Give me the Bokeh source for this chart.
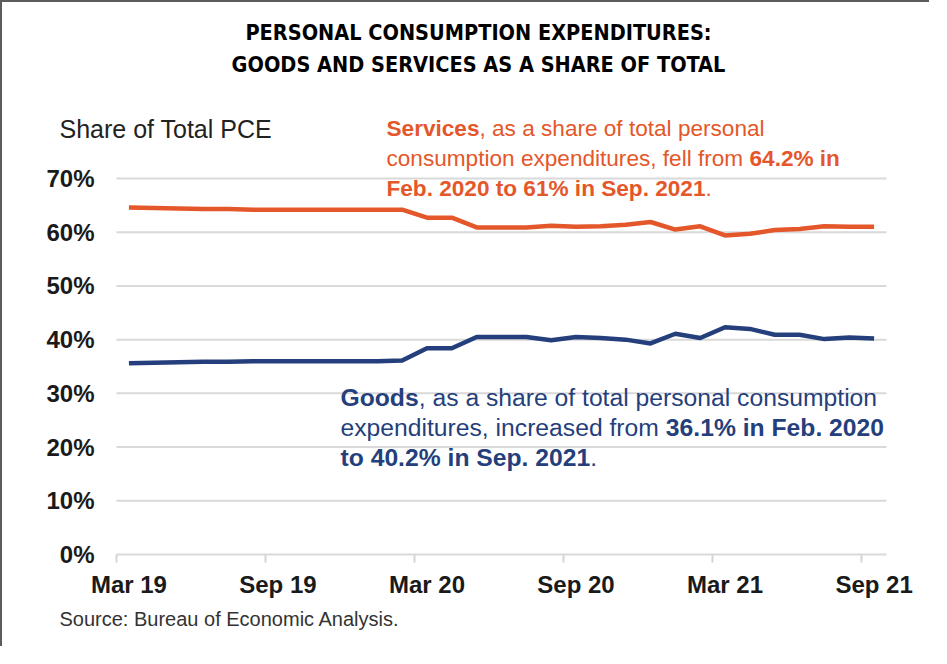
from bokeh.plotting import figure
from bokeh.models import Range1d, FixedTicker, Label
from bokeh.embed import file_html
from bokeh.resources import INLINE

# ---------------- data ----------------
months = ["Mar 19", "Apr 19", "May 19", "Jun 19", "Jul 19", "Aug 19", "Sep 19",
          "Oct 19", "Nov 19", "Dec 19", "Jan 20", "Feb 20", "Mar 20", "Apr 20", "May 20",
          "Jun 20", "Jul 20", "Aug 20", "Sep 20", "Oct 20", "Nov 20", "Dec 20", "Jan 21",
          "Feb 21", "Mar 21", "Apr 21", "May 21", "Jun 21", "Jul 21", "Aug 21", "Sep 21"]
services = [64.6, 64.5, 64.4, 64.3, 64.3, 64.2, 64.2, 64.2, 64.2, 64.2, 64.2, 64.2,
            62.7, 62.7, 60.9, 60.9, 60.9, 61.2, 61.0, 61.1, 61.4, 61.9, 60.5, 61.1, 59.4,
            59.7, 60.4, 60.6, 61.1, 61.0, 61.0]
goods = [35.6, 35.7, 35.8, 35.9, 35.9, 36.0, 36.0, 36.0, 36.0, 36.0, 36.0, 36.1,
         38.4, 38.4, 40.5, 40.5, 40.5, 39.9, 40.5, 40.3, 40.0, 39.3, 41.1, 40.3, 42.3,
         42.0, 40.9, 40.9, 40.1, 40.4, 40.2]
tick_labels = ["Mar 19", "Sep 19", "Mar 20", "Sep 20", "Mar 21", "Sep 21"]
y_ticks = [0, 10, 20, 30, 40, 50, 60, 70]

MON = {m: i for i, m in enumerate(["Jan", "Feb", "Mar", "Apr", "May", "Jun",
                                   "Jul", "Aug", "Sep", "Oct", "Nov", "Dec"])}


def midx(label):
    m, yy = label.split()
    return (2000 + int(yy)) * 12 + MON[m] - (2019 * 12 + 2)


x = [midx(m) for m in months]
tick_x = [midx(t) for t in tick_labels]

# ---------------- geometry / styling ----------------
ORANGE = "#E4572A"
NAVY = "#253F7C"
FONT = "Liberation Sans"
W, H = 929, 646
FL, FR, FT, FB = 114, 884, 176, 552          # data area in canvas px
X0, X1 = -0.5, 30.5
Y0, Y1 = 0, 70
PXM = (FR - FL) / (X1 - X0)
PXP = (FB - FT) / (Y1 - Y0)
XS, XE = X0 - FL / PXM, X1 + (W - FR) / PXM
YS, YE = Y0 - (H - FB) / PXP, Y1 + FT / PXP
BASE_FIX = 0.34   # baseline correction, fraction of font size


def dx(cx):
    return XS + cx / PXM


def dy(cy):
    return YS + (H - cy) / PXP


REG = {}
for chars, w in [(" ,.:!ftI", 278), ("ijl", 222), ("r()-", 333), ("cksvxyzJ", 500),
                 ("abdeghnopqu0123456789L?", 556), ("FTZ", 611), ("ABEKPSVXY", 667),
                 ("CDHNRUw", 722), ("GOQ", 778), ("mM", 833), ("%", 889), ("W", 944)]:
    for c in chars:
        REG[c] = w
BOLD = {}
for chars, w in [(" ,.ijlI", 278), ("ft:", 333), ("r", 389), ("z", 500),
                 ("acekqsvxy0123456789J", 556), ("bdghnopuFTZL", 611), ("EPSVXY", 667),
                 ("ABCDHKNRU", 722), ("GOQw", 778), ("M", 833), ("m%", 889), ("W", 944)]:
    for c in chars:
        BOLD[c] = w
BOLD["q"] = 611


def text_width(t, bold, size):
    tab = BOLD if bold else REG
    return sum(tab.get(c, 556) for c in t) * size / 1000.0


p = figure(width=W, height=H, output_backend="svg", toolbar_location=None, title=None,
           x_range=Range1d(XS, XE), y_range=Range1d(YS, YE),
           min_border_left=0, min_border_right=0, min_border_top=0, min_border_bottom=0,
           styles={"border-top": "2px solid #5c5c5c", "border-left": "2px solid #5c5c5c"})
p.outline_line_color = None
p.background_fill_color = "white"
p.border_fill_color = "white"
p.xgrid.grid_line_color = None
p.ygrid.grid_line_color = None

# horizontal gridlines, limited to the data area
grid_y = y_ticks[1:]
p.segment(x0=[X0] * len(grid_y), x1=[X1] * len(grid_y), y0=grid_y, y1=grid_y,
          line_color="#d9d9d9", line_width=2)

xa = p.xaxis[0]
xa.fixed_location = 0
xa.bounds = (X0, X1)
xa.ticker = FixedTicker(ticks=tick_x, minor_ticks=[t - 0.5 for t in tick_x])
xa.major_label_overrides = {t: l for t, l in zip(tick_x, tick_labels)}
xa.axis_line_color = "#d9d9d9"
xa.axis_line_width = 2
xa.major_tick_line_color = None
xa.major_tick_out = 0
xa.major_tick_in = 0
xa.minor_tick_line_color = "#d4d4d4"
xa.minor_tick_line_width = 2
xa.minor_tick_out = 8
xa.minor_tick_in = 0
xa.major_label_standoff = 8
xa.major_label_text_font = FONT
xa.major_label_text_font_style = "bold"
xa.major_label_text_font_size = "24px"
xa.major_label_text_color = "#1a1a1a"

ya = p.yaxis[0]
ya.fixed_location = X0
ya.bounds = (Y0, Y1)
ya.ticker = FixedTicker(ticks=y_ticks)
ya.major_label_overrides = {v: f"{v}%" for v in y_ticks}
ya.axis_line_color = None
ya.major_tick_line_color = None
ya.minor_tick_line_color = None
ya.major_tick_out = 0
ya.major_tick_in = 0
ya.major_label_standoff = 22
ya.major_label_text_font = FONT
ya.major_label_text_font_style = "bold"
ya.major_label_text_font_size = "24px"
ya.major_label_text_color = "#1a1a1a"

p.line(x, services, line_color=ORANGE, line_width=4.5, line_join="round")
p.line(x, goods, line_color=NAVY, line_width=4.5, line_join="round")


def label(text, cx, cy, size, color, bold=False, align="left", font=FONT):
    p.add_layout(Label(x=dx(cx), y=dy(cy - BASE_FIX * size), text=text,
                       text_font=font, text_font_style="bold" if bold else "normal",
                       text_font_size=f"{size}px", text_color=color,
                       text_align=align, text_baseline="alphabetic"))


def rich_line(segments, cx, cy, size, color):
    for t, b in segments:
        label(t, cx, cy, size, color, bold=b)
        cx += text_width(t, b, size)


TFONT = "DejaVu Sans Condensed"
label("PERSONAL CONSUMPTION EXPENDITURES:", 476, 37, 21.5, "#000000", bold=True,
      align="center", font=TFONT)
label("GOODS AND SERVICES AS A SHARE OF TOTAL", 476, 69, 21.5, "#000000", bold=True,
      align="center", font=TFONT)

label("Share of Total PCE", 57, 135, 25, "#222222")
label("Source: Bureau of Economic Analysis.", 57, 623, 20, "#333333")

SS = 22.6
rich_line([("Services", True), (", as a share of total personal", False)], 384, 134, SS, ORANGE)
rich_line([("consumption expenditures, fell from ", False), ("64.2% in", True)], 384, 164, SS, ORANGE)
rich_line([("Feb. 2020 to 61% in Sep. 2021", True), (".", False)], 384, 194, SS, ORANGE)

GS = 24.7
rich_line([("Goods", True), (", as a share of total personal consumption", False)], 338, 403, GS, NAVY)
rich_line([("expenditures, increased from ", False), ("36.1% in Feb. 2020", True)], 338, 433, GS, NAVY)
rich_line([("to 40.2% in Sep. 2021", True), (".", False)], 338, 463, GS, NAVY)

open("out.html", "w").write(file_html(p, INLINE))
